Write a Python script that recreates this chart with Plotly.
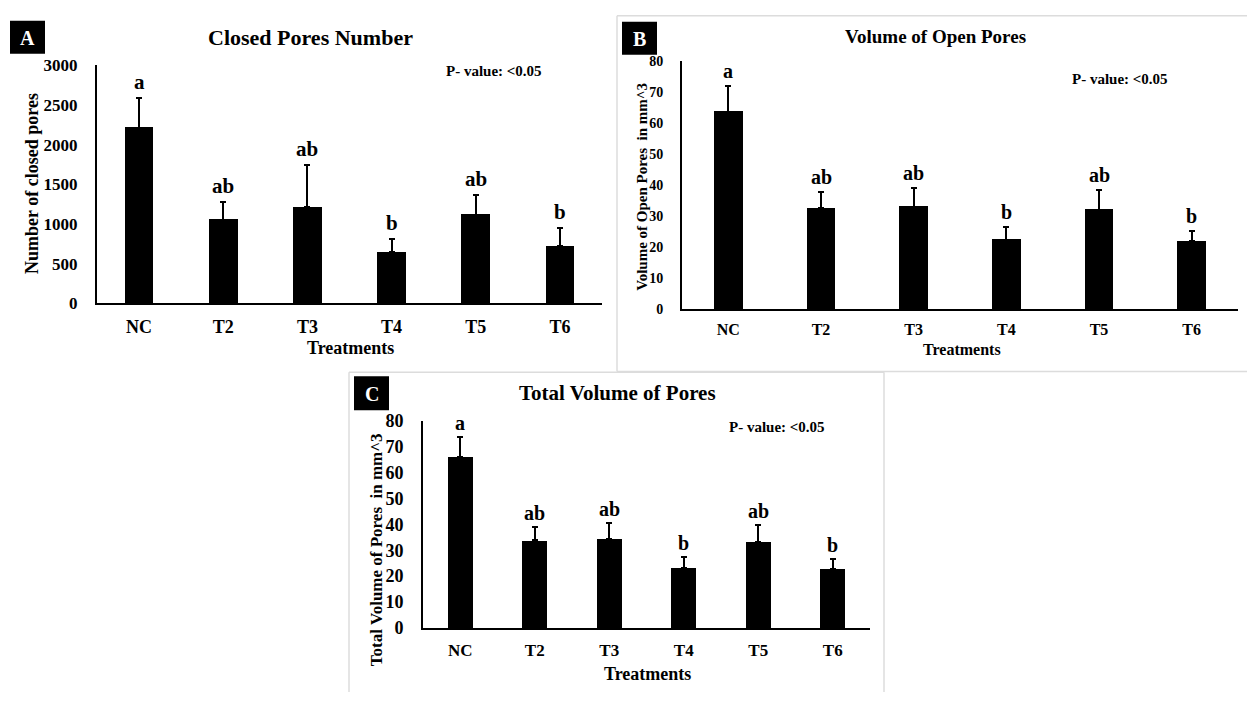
import plotly.graph_objects as go

W, H = 1247, 702

treatments = ["NC", "T2", "T3", "T4", "T5", "T6"]
letters = ["a", "ab", "ab", "b", "ab", "b"]

closed_mean = [2215, 1053, 1216, 645, 1118, 722]
closed_sd = [370, 224, 523, 171, 253, 229]

open_mean = [63.8, 32.6, 33.1, 22.4, 32.1, 21.9]
open_sd = [8.2, 5.2, 6.1, 4.0, 6.5, 3.5]

total_mean = [65.9, 33.8, 34.3, 23.1, 33.3, 22.7]
total_sd = [7.8, 5.3, 6.3, 4.2, 6.5, 3.8]

SERIF = "Liberation Serif, Times New Roman, serif"


def px(x):
    return x / W


def py(y):
    return 1 - y / H


# panel specs: axis suffix, data, pixel box of plot area, fonts
panels = [
    dict(ax="", mean=closed_mean, sd=closed_sd, box=(97, 602, 57, 302),
         yr=[0, 3000], dt=500, bw=0.34, ytf=17, xtf=18, lf=21, ysh=2, xso=6),
    dict(ax="2", mean=open_mean, sd=open_sd, box=(682, 1238, 53, 308),
         yr=[0, 80], dt=10, bw=0.31, ytf=14, xtf=16, lf=20, ysh=2, xso=5),
    dict(ax="3", mean=total_mean, sd=total_sd, box=(423, 870, 423, 636),
         yr=[0, 80], dt=10, bw=0.34, ytf=18, xtf=17, lf=20, ysh=1, xso=6),
]

fig = go.Figure()
layout = {}
annotations = []

for p in panels:
    x0, x1, y0, y1 = p["box"]
    fig.add_trace(go.Bar(
        x=treatments, y=p["mean"], width=p["bw"],
        marker=dict(color="black", line=dict(width=0)),
        error_y=dict(type="data", array=p["sd"], arrayminus=[0] * 6,
                     symmetric=False, color="black", thickness=2, width=3),
        xaxis="x" + p["ax"], yaxis="y" + p["ax"], showlegend=False,
    ))
    layout["xaxis" + p["ax"]] = dict(
        domain=[px(x0), px(x1)], anchor="y" + p["ax"], range=[-0.5, 5.5],
        showline=True, linecolor="black", linewidth=2, ticks="",
        showgrid=False, zeroline=False, ticklabelstandoff=p["xso"],
        tickfont=dict(family=SERIF, size=p["xtf"], color="black", weight="bold"),
    )
    layout["yaxis" + p["ax"]] = dict(
        domain=[py(y1), py(y0)], anchor="x" + p["ax"], range=p["yr"], dtick=p["dt"],
        showline=True, linecolor="black", linewidth=2, ticks="",
        showgrid=False, zeroline=False, ticklabelstandoff=14,
        tickfont=dict(family=SERIF, size=p["ytf"], color="black", weight="bold"),
    )
    # significance letters above each error bar
    for t, m, s, lab in zip(treatments, p["mean"], p["sd"], letters):
        annotations.append(dict(
            x=t, y=m + s, xref="x" + p["ax"], yref="y" + p["ax"],
            text=lab, showarrow=False, yanchor="bottom", yshift=p["ysh"],
            font=dict(family=SERIF, size=p["lf"], color="black", weight="bold"),
        ))


def label(x, y, text, size, angle=0, color="black", **kw):
    d = dict(x=px(x), y=py(y), xref="paper", yref="paper", text=text,
             showarrow=False, textangle=angle, xanchor="center", yanchor="middle",
             font=dict(family=SERIF, size=size, color=color, weight="bold"))
    d.update(kw)
    annotations.append(d)


# titles
label(310, 28, "Closed Pores Number", 22)
label(935, 27, "Volume of Open Pores", 19)
label(617, 394, "Total Volume of Pores", 21)

# p-value notes
label(494, 63, "P- value: &lt;0.05", 15)
label(1120, 71, "P- value: &lt;0.05", 15)
label(777, 429, "P- value: &lt;0.05", 15)

# axis titles
label(350, 348, "Treatments", 18)
label(962, 349, "Treatments", 16)
label(647, 683, "Treatments", 18)
label(32, 179, "Number of closed pores", 18, angle=-90)
label(642, 182, "Volume of Open Pores  in mm^3", 15, angle=-90)
label(376, 556, "Total Volume of Pores  in mm^3", 17, angle=-90)

# panel tags
shapes = []
for tag, (bx0, bx1, by0, by1) in [("A", (10, 45, 11, 45)),
                                  ("B", (622, 657, 12, 46)),
                                  ("C", (354, 389, 377, 412))]:
    shapes.append(dict(type="rect", xref="paper", yref="paper",
                       x0=px(bx0), x1=px(bx1), y0=py(by1), y1=py(by0),
                       fillcolor="black", line=dict(width=0)))
    label((bx0 + bx1) / 2, (by0 + by1) / 2 + 1, tag, 20, color="white")

# light frames around panels B and C
frame = dict(color="#dcdcdc", width=1.5)
for (ax0, ay0, ax1, ay1) in [(617, 6, 617, 372), (617, 6, 1247, 6), (617, 372, 1247, 372),
                             (349, 373, 349, 702), (349, 373, 884, 373), (884, 373, 884, 702)]:
    shapes.append(dict(type="line", xref="paper", yref="paper",
                       x0=px(ax0), y0=py(ay0), x1=px(ax1), y1=py(ay1), line=frame))

fig.update_layout(
    width=W, height=H, margin=dict(l=0, r=0, t=0, b=0),
    paper_bgcolor="white", plot_bgcolor="white",
    annotations=annotations, shapes=shapes, bargap=0, **layout,
)

fig.write_html("out.html")
